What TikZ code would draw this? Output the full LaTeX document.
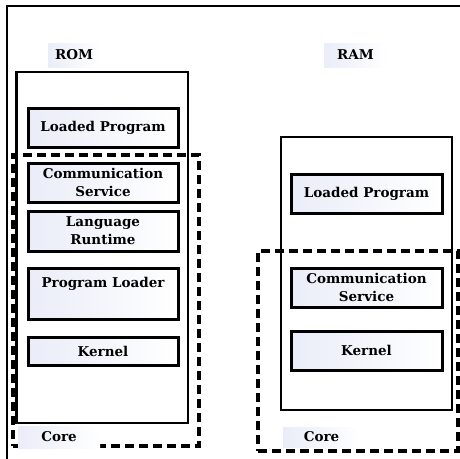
\documentclass[tikz,border=0pt]{standalone}
\usepackage{fontspec}
\setmainfont{DejaVu Serif}
\definecolor{tint}{RGB}{234,237,248}
\begin{document}
\begin{tikzpicture}[x=1pt,y=-1pt,
 txt/.style={font=\fontsize{13.5}{18}\selectfont\bfseries, align=center, inner sep=0pt},
 box/.style={txt, draw=black, line width=3pt, left color=tint, right color=white},
 container/.style={draw=black, line width=2.4pt, inner sep=0pt},
 corebox/.style={draw=black, line width=3.2pt, dash pattern=on 9pt off 5pt, inner sep=0pt},
 tag/.style={txt, left color=tint, right color=white}]
\useasboundingbox (0,0) rectangle (460,458);
\clip (0,0) rectangle (460,458);
\draw[line width=2.6pt] (7,470) -- (7,6) -- (470,6);

% containers
\node[container, minimum width=171.5pt, minimum height=351pt] (rom) at (102.25,247.5) {};
\node[container, minimum width=171pt, minimum height=273pt] (ram) at (366.5,273.5) {};
\node[corebox, minimum width=186pt, minimum height=291pt] (romcore) at (106,300.5) {};
\node[corebox, minimum width=200pt, minimum height=200pt] (ramcore) at (358,351) {};

% ROM contents
\node[box, minimum width=150pt, minimum height=39pt] (rlp) at (103,127.5) {Loaded Program};
\node[box, minimum width=150pt, minimum height=39pt] (rcs) at (103,182.5) {Communication\\Service};
\node[box, minimum width=150pt, minimum height=40pt] (rlr) at (103,231) {Language\\Runtime};
\node[box, minimum width=150pt, minimum height=51pt] (rpl) at (103,293.5) {};
\node[txt] (rpltext) at (103,284) {Program Loader};
\node[box, minimum width=150pt, minimum height=28pt] (rk) at (103,351) {Kernel};

% RAM contents
\node[box, minimum width=151pt, minimum height=39pt] (mlp) at (366.5,193.5) {Loaded Program};
\node[box, minimum width=151pt, minimum height=39pt] (mcs) at (366.5,287.5) {Communication\\Service};
\node[box, minimum width=151pt, minimum height=39pt] (mk) at (366.5,350.5) {Kernel};

% tags
\node[tag, minimum width=52pt, minimum height=24pt] (romtag) at (74,55) {ROM};
\node[tag, minimum width=63pt, minimum height=24pt] (ramtag) at (355.5,55) {RAM};
\node[tag, minimum width=82pt, minimum height=22pt] (rcoretag) at (59,437) {Core};
\node[tag, minimum width=77pt, minimum height=20pt] (mcoretag) at (321.5,437) {Core};
\end{tikzpicture}
\end{document}
